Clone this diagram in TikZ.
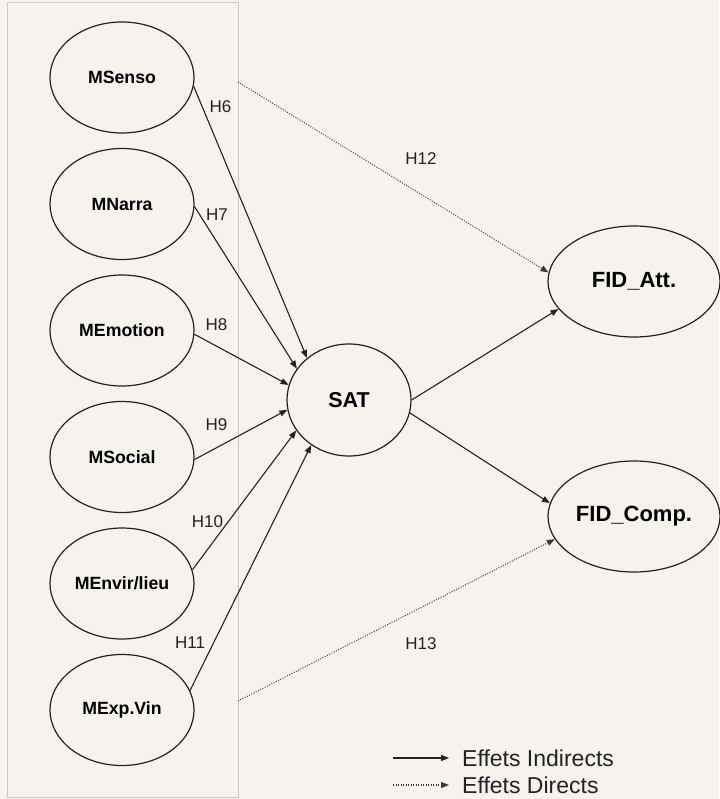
\documentclass[tikz,border=0pt]{standalone}
\usepackage{fontspec}
\setmainfont{Liberation Sans}
\usetikzlibrary{shapes.geometric,arrows.meta}
\definecolor{paper}{HTML}{F6F2EE}
\definecolor{frame}{HTML}{CDC9C6}
\definecolor{ink}{HTML}{222222}
\definecolor{dotgray}{HTML}{3A3A3A}
\begin{document}
\begin{tikzpicture}[x=1pt,y=-1pt,
  construct/.style={ellipse, draw=ink, line width=1.2pt, minimum width=144pt,
    minimum height=111pt, inner sep=0pt, text=black,
    font=\fontsize{17.7}{20}\selectfont\bfseries},
  outcome/.style={construct, minimum width=172pt, font=\fontsize{22}{24}\selectfont\bfseries},
  central/.style={construct, minimum width=124pt, minimum height=112pt,
    font=\fontsize{21.5}{24}\selectfont\bfseries},
  tip/.style={-{Triangle[length=8pt,width=6pt]}},
  effect/.style={tip, draw=ink, line width=1.1pt},
  direct/.style={tip, draw=dotgray, line width=1.1pt, dash pattern=on 0.9pt off 1.6pt},
  hlabel/.style={inner sep=0pt, text=ink, font=\fontsize{17}{19}\selectfont},
  legendtext/.style={inner sep=0pt, anchor=base west, text=ink, font=\fontsize{23}{25}\selectfont}
]
% page background
\fill[paper] (0,0) rectangle (719,799);
\useasboundingbox (0,0) rectangle (719,799);

% frame grouping the experiential dimensions
\node[draw=frame, line width=1.4pt, minimum width=231pt, minimum height=795pt,
  inner sep=0pt, anchor=north west] (grp) at (7,2) {};

% constructs
\node[construct] (msenso)  at (122,77.5)  {MSenso};
\node[construct] (mnarra)  at (122,204)   {MNarra};
\node[construct] (memot)   at (122,330.5) {MEmotion};
\node[construct] (msocial) at (122,457)   {MSocial};
\node[construct] (menvir)  at (122,583.5) {MEnvir/lieu};
\node[construct] (mexp)    at (122,710)   {MExp.Vin};
\node[central]   (sat)     at (349,400)   {SAT};
\node[outcome]   (fidatt)  at (634,281.5) {FID\_Att.};
\node[outcome]   (fidcomp) at (634,516.5) {FID\_Comp.};

% indirect effects towards satisfaction
\draw[effect] (msenso.-7)  -- (sat.135);
\draw[effect] (mnarra.-2)  -- (sat.149);
\draw[effect] (memot.-3)   -- (sat.166);
\draw[effect] (msocial.-2) -- (sat.-171);
\draw[effect] (menvir.11)  -- (sat.-150);
\draw[effect] (mexp.16)    -- (sat.-130);

% satisfaction to loyalty
\draw[effect] (sat.0)   -- (fidatt.-160);
\draw[effect] (sat.-12) -- (fidcomp.171);

% direct effects from the group
\coordinate (d1) at (238,82);
\coordinate (d2) at (238,701);
\draw[direct] (d1) -- (fidatt.174);
\draw[direct] (d2) -- (fidcomp.-164);

% hypothesis labels
\node[hlabel] (h6)  at (220.5,107) {H6};
\node[hlabel] (h7)  at (217,215)   {H7};
\node[hlabel] (h8)  at (216.5,325) {H8};
\node[hlabel] (h9)  at (216.5,425) {H9};
\node[hlabel] (h10) at (207.5,522) {H10};
\node[hlabel] (h11) at (190,643)   {H11};
\node[hlabel] (h12) at (421,159)   {H12};
\node[hlabel] (h13) at (421,644)   {H13};

% legend
\coordinate (la) at (393,758);
\coordinate (lb) at (449,758);
\coordinate (lc) at (393,785);
\coordinate (ld) at (449,785);
\draw[effect] (la) -- (lb);
\draw[direct] (lc) -- (ld);
\node[legendtext] (leg1) at (462,766.5) {Effets Indirects};
\node[legendtext] (leg2) at (462,793.5) {Effets Directs};
\end{tikzpicture}
\end{document}
